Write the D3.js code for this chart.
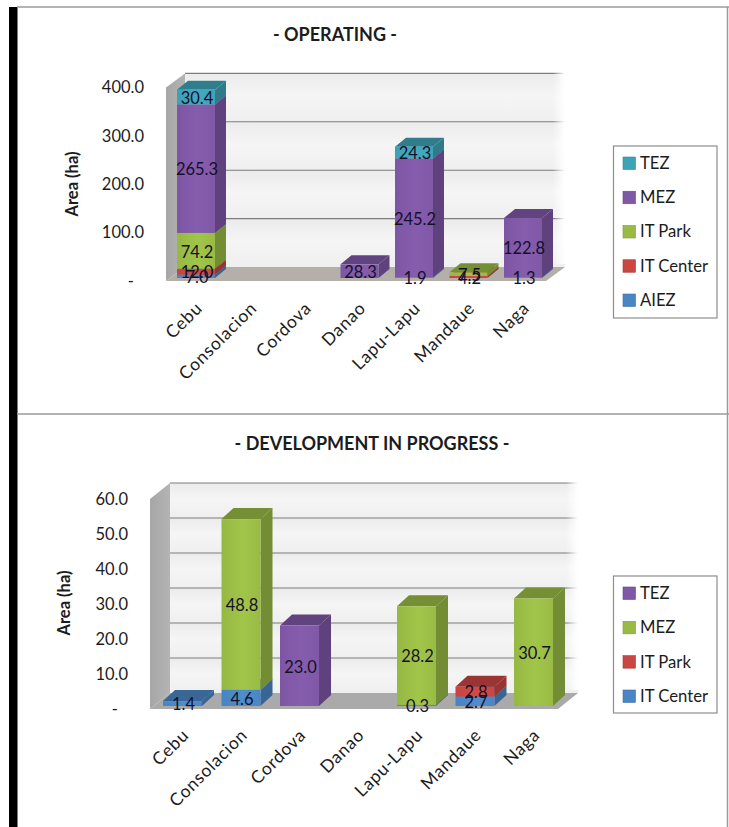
<!DOCTYPE html>
<html>
<head>
<meta charset="utf-8">
<script src="https://cdn.jsdelivr.net/npm/d3@7"></script>
<style>
  html, body { margin: 0; padding: 0; background: #fff; }
  svg { display: block; }
  text { font-family: Lato, "Open Sans", sans-serif; fill: #1c1c1c; }
</style>
</head>
<body>
<svg id="page" width="729" height="827"></svg>
<script>
// City list shared by both panels
const cities = ["Cebu", "Consolacion", "Cordova", "Danao", "Lapu-Lapu", "Mandaue", "Naga"];

// Operating economic zones, area in hectares per city
const opAiez     = [7.0, 0, 0, 0, 1.9, 0, 1.3];
const opItCenter = [12.0, 0, 0, 0, 0, 4.2, 0];
const opItPark   = [74.2, 0, 0, 0, 0, 7.5, 0];
const opMez      = [265.3, 0, 0, 28.3, 245.2, 0, 122.8];
const opTez      = [30.4, 0, 0, 0, 24.3, 0, 0];
const opTicks    = [0, 100, 200, 300, 400];

// Zones with development in progress, area in hectares per city
const devItCenter = [1.4, 4.6, 0, 0, 0.3, 2.7, 0];
const devItPark   = [0, 0, 0, 0, 0, 2.8, 0];
const devMez      = [0, 48.8, 0, 0, 28.2, 0, 30.7];
const devTez      = [0, 0, 23.0, 0, 0, 0, 0];
const devTicks    = [0, 10, 20, 30, 40, 50, 60];

const teal = "#3fa3b8", purple = "#7f58a6", green = "#99bb45", red = "#cb4542", blue = "#4a86c4";

const svg = d3.select("#page");
const defs = svg.append("defs");

// Page furniture: heavy left rule, hairlines and the divider between panels
svg.append("rect").attr("x", 9).attr("y", 7).attr("width", 8.5).attr("height", 820).attr("fill", "#000");
[[17, 7, 729, 7], [17, 414, 729, 414], [727.5, 7, 727.5, 827]].forEach(([x1, y1, x2, y2]) =>
  svg.append("line").attr("x1", x1).attr("y1", y1).attr("x2", x2).attr("y2", y2)
     .attr("stroke", "#9a9a9a").attr("stroke-width", 1.5));

function linearGradient(id, horizontal, stops) {
  const g = defs.append("linearGradient").attr("id", id)
    .attr("x1", 0).attr("y1", 0).attr("x2", horizontal ? 1 : 0).attr("y2", horizontal ? 0 : 1);
  stops.forEach(([o, c, a]) => g.append("stop").attr("offset", o).attr("stop-color", c).attr("stop-opacity", a === undefined ? 1 : a));
  return `url(#${id})`;
}

linearGradient("wallBand", false, [[0, "#ebebeb"], [0.45, "#f5f5f5"], [1, "#efefef"]]);
linearGradient("wallFade", true, [[0, "#fff", 0], [1, "#fff", 1]]);
linearGradient("sideWall", true, [[0, "#a6a6a6"], [1, "#b4b4b4"]]);

const poly = pts => d3.line()(pts) + "Z";

function drawPanel(p) {
  const g = svg.append("g");
  const x = d3.scaleBand().domain(cities).range(p.xRange).paddingInner(p.gap).paddingOuter(0);
  const y = d3.scaleLinear().domain([0, d3.max(p.ticks)]).range([p.base, p.base - p.plotHeight]);

  // The back wall, side wall and floor of the 3-D box
  const L = p.wallLeft, R = p.wallRight, W = p.wallDx, back = p.backDy, front = p.frontDy;
  const tickPairs = d3.pairs(p.ticks);
  g.selectAll(".band").data(tickPairs).join("rect")
    .attr("x", L + W).attr("width", R - L)
    .attr("y", d => y(d[1]) + back).attr("height", d => y(d[0]) - y(d[1]))
    .attr("fill", "url(#wallBand)");
  g.append("path").attr("fill", "url(#sideWall)").attr("d", poly([
    [L, y(0) + front], [L, y(d3.max(p.ticks)) + front],
    [L + W, y(d3.max(p.ticks)) + back], [L + W, y(0) + back]]));
  g.append("path").attr("fill", p.floor).attr("d", poly([
    [L, y(0) + front], [R, y(0) + front], [R + W, y(0) + back], [L + W, y(0) + back]]));
  g.selectAll(".grid").data(p.ticks.slice(1)).join("line")
    .attr("x1", L + W).attr("x2", R + W)
    .attr("y1", d => y(d) + back).attr("y2", d => y(d) + back)
    .attr("stroke", "#7d7d7d").attr("stroke-width", 1.1);
  g.append("rect").attr("x", R + W - 12).attr("width", 12)
    .attr("y", y(d3.max(p.ticks)) + back - 2).attr("height", p.plotHeight - 1)
    .attr("fill", "url(#wallFade)");

  // Stacked bars, bottom series first
  const bw = x.bandwidth();
  const stack = d3.stack().keys(p.series.map(s => s.name))
    .value((row, key) => row[key])(cities.map((c, i) => {
      const row = { city: c };
      p.series.forEach(s => { row[s.name] = s.values[i]; });
      return row;
    }));
  const labels = [];
  stack.forEach((layer, si) => {
    const color = p.series[si].color;
    const fill = linearGradient(`${p.id}-${si}`, true,
      [[0, d3.color(color).darker(0.05)], [0.55, d3.color(color).brighter(0.14)], [1, d3.color(color)]]);
    const seg = g.append("g");
    layer.forEach(d => {
      const v = d[1] - d[0];
      if (!v) return;
      const x0 = x(d.data.city), x1 = x0 + bw, y0 = y(d[0]), y1 = y(d[1]);
      const dx = p.barDx, dy = p.barDy;
      seg.append("path").attr("fill", d3.color(color).darker(0.75)).attr("d", poly([
        [x0, y1], [x1, y1], [x1 + dx, y1 - dy], [x0 + dx, y1 - dy]]));
      seg.append("path").attr("fill", d3.color(color).darker(0.8)).attr("d", poly([
        [x1, y0], [x1, y1], [x1 + dx, y1 - dy], [x1 + dx, y0 - dy]]));
      seg.append("rect").attr("x", x0).attr("y", y1).attr("width", bw).attr("height", y0 - y1).attr("fill", fill);
      labels.push({ v, cx: x0 + bw / 2 + 1, cy: (y0 + y1) / 2 + 1 });
    });
  });

  // Value labels sit above every bar
  g.selectAll(".value").data(labels).join("text")
    .attr("x", d => d.cx).attr("y", d => d.cy).attr("dy", "0.35em")
    .attr("text-anchor", "middle").attr("font-size", 16.5)
    .style("fill", "#15102a")
    .text(d => d.v.toFixed(1));

  // Value axis, printed against the front edge of the side wall
  const yAxis = d3.axisLeft(y).tickValues(p.ticks).tickSize(0).tickPadding(0)
    .tickFormat(v => v === 0 ? "-" : d3.format(".1f")(v));
  const ya = g.append("g").attr("transform", `translate(${p.tickRight},${front})`).call(yAxis);
  ya.select(".domain").remove();
  ya.selectAll("text").attr("font-size", 16.5).attr("font-family", "Lato")
    .attr("dx", v => v === 0 ? -10 : 0);

  g.append("text")
    .attr("transform", `translate(${p.titleX},${p.titleY}) rotate(-90)`)
    .attr("text-anchor", "middle").attr("font-size", 16.5).attr("font-weight", 700)
    .text("Area (ha)");

  // City axis with slanted names ending under each bar
  const xa = g.append("g").attr("transform", `translate(0,${p.base})`)
    .call(d3.axisBottom(x).tickSize(0));
  xa.select(".domain").remove();
  xa.selectAll("text")
    .attr("font-size", 17.5).attr("font-family", "Lato").attr("letter-spacing", 0.7)
    .attr("text-anchor", "end")
    .attr("transform", `translate(${p.catDx},${p.catDy}) rotate(-45)`)
    .attr("x", 0).attr("y", 0).attr("dy", "0.35em");

  // Panel heading
  g.append("text").attr("x", p.headX).attr("y", p.headY).attr("dy", "0.35em")
    .attr("text-anchor", "middle").attr("font-size", 18).attr("font-weight", 700)
    .text(p.heading);

  // Legend, top series first
  const lg = g.append("g");
  lg.append("rect").attr("x", p.legend.x).attr("y", p.legend.y)
    .attr("width", p.legend.w).attr("height", p.legend.h)
    .attr("fill", "#fff").attr("stroke", "#8e8e8e").attr("stroke-width", 1.2);
  const items = p.series.slice().reverse();
  const ly = d3.scalePoint().domain(items.map(s => s.name))
    .range([p.legend.first, p.legend.last]);
  const row = lg.selectAll(".row").data(items).join("g")
    .attr("transform", s => `translate(${p.legend.x + 9.5},${ly(s.name)})`);
  row.append("rect").attr("x", 0).attr("y", -6).attr("width", 12.5).attr("height", 12.5)
    .attr("fill", s => s.color).attr("stroke", s => d3.color(s.color).darker(0.5)).attr("stroke-width", 0.6);
  row.append("text").attr("x", 17).attr("dy", "0.35em").attr("font-size", 16.7).text(s => s.name);
}

drawPanel({
  id: "op", heading: "- OPERATING -", headX: 335, headY: 35,
  ticks: opTicks, base: 278, plotHeight: 193.6,
  xRange: [177, 542], gap: 0.303, barDx: 11, barDy: 9,
  wallLeft: 166, wallRight: 546, wallDx: 19, backDy: -11, frontDy: 3,
  floor: "#b4afa9", tickRight: 144, titleX: 78, titleY: 184, catDx: 3, catDy: 27,
  series: [
    { name: "AIEZ", values: opAiez, color: blue },
    { name: "IT Center", values: opItCenter, color: red },
    { name: "IT Park", values: opItPark, color: green },
    { name: "MEZ", values: opMez, color: purple },
    { name: "TEZ", values: opTez, color: teal }
  ],
  legend: { x: 613.5, y: 146, w: 103.5, h: 172, first: 163, last: 300 }
});

drawPanel({
  id: "dev", heading: "- DEVELOPMENT IN PROGRESS -", headX: 372, headY: 444,
  ticks: devTicks, base: 706, plotHeight: 210,
  xRange: [163, 553], gap: 0.333, barDx: 12, barDy: 11,
  wallLeft: 150, wallRight: 558, wallDx: 20, backDy: -13, frontDy: 3,
  floor: "#aaaaaa", tickRight: 128, titleX: 70, titleY: 603, catDx: 3, catDy: 26,
  series: [
    { name: "IT Center", values: devItCenter, color: blue },
    { name: "IT Park", values: devItPark, color: red },
    { name: "MEZ", values: devMez, color: green },
    { name: "TEZ", values: devTez, color: purple }
  ],
  legend: { x: 613.5, y: 576, w: 103.5, h: 137, first: 593, last: 696 }
});
</script>
</body>
</html>
